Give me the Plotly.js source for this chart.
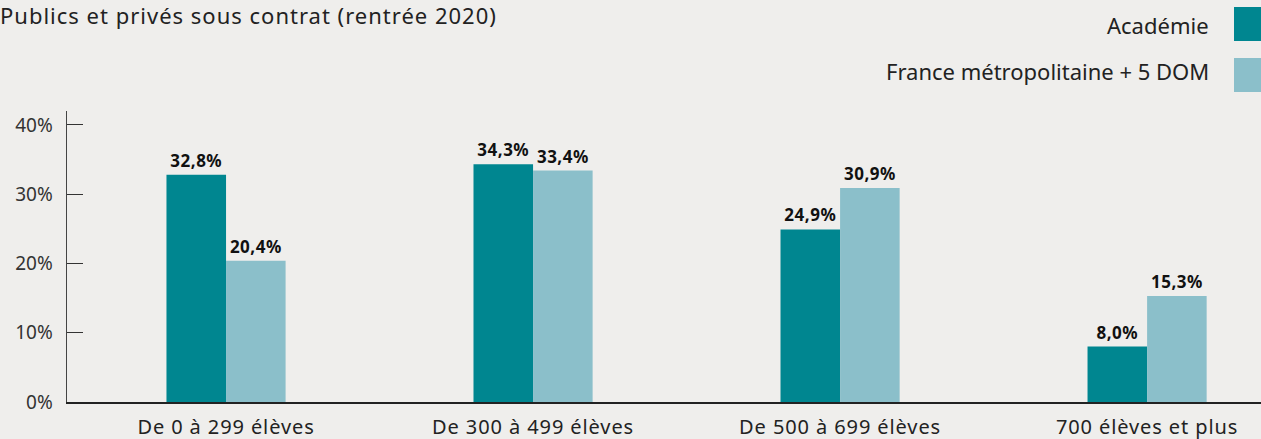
<!DOCTYPE html>
<html>
<head>
<meta charset="utf-8">
<script src="https://cdn.plot.ly/plotly-3.0.1.min.js"></script>
<style>
html,body{margin:0;padding:0;background:#efeeec;}
#chart{width:1261px;height:439px;}
.gtitle{letter-spacing:1px;}
.xtick text{letter-spacing:0.9px;}
.bartext{letter-spacing:0.5px;}
</style>
</head>
<body>
<div id="chart"></div>
<script>
const categories = ["De 0 à 299 élèves", "De 300 à 499 élèves", "De 500 à 699 élèves", "700 élèves et plus"];
const seriesNames = ["Académie", "France métropolitaine + 5 DOM"];
const academie = [32.8, 34.3, 24.9, 8.0];
const france = [20.4, 33.4, 30.9, 15.3];
const colors = ["#008690", "#8bbfca"];
const yTickVals = [0, 10, 20, 30, 40];
const yTickText = ["0%", "10%", "20%", "30%", "40%"];
const subtitle = "Publics et privés sous contrat (rentrée 2020)";

const FONT = "Noto Sans, sans-serif";
const W = 1261, H = 439;
const mL = 67, mR = 0, mT = 111, mB = 37;
const pw = W - mL - mR, ph = H - mT - mB;
const px2x = p => (p - mL) / pw;
const py2y = p => (H - mB - p) / ph;

const allSeries = [academie, france];
const traces = allSeries.map((vals, i) => ({
  type: "bar",
  x: categories,
  y: vals,
  name: seriesNames[i],
  marker: {color: colors[i]},
  text: vals,
  texttemplate: "%{y:.1f}%",
  textposition: "outside",
  textfont: {family: FONT, size: 17, color: "#111", weight: 700},
  cliponaxis: false,
  hoverinfo: "skip"
}));

const annotations = [];
const shapes = [];
const legendTextY = [25, 71];
const legendBoxY = [24, 75];
seriesNames.forEach((n, i) => {
  annotations.push({
    xref: "paper", yref: "paper",
    x: px2x(1211), y: py2y(legendTextY[i]),
    xanchor: "right", yanchor: "middle",
    text: n, showarrow: false,
    font: {family: FONT, size: 22, color: "#222"}
  });
  shapes.push({
    type: "rect", xref: "paper", yref: "paper",
    x0: px2x(1234), x1: px2x(1262),
    y0: py2y(legendBoxY[i] + 17), y1: py2y(legendBoxY[i] - 17),
    fillcolor: colors[i], line: {width: 0}
  });
});

const layout = {
  width: W, height: H,
  margin: {l: mL, r: mR, t: mT, b: mB, pad: 0},
  paper_bgcolor: "#efeeec",
  plot_bgcolor: "#efeeec",
  separators: ", ",
  showlegend: false,
  barmode: "group",
  bargap: 0.612,
  bargroupgap: 0,
  title: {
    text: subtitle,
    xref: "container", yref: "container",
    x: 0, xanchor: "left",
    y: 1 - 16 / H, yanchor: "middle",
    font: {family: FONT, size: 22, color: "#222"},
    pad: {l: 0, t: 0, r: 0, b: 0}
  },
  xaxis: {
    type: "category",
    range: [-0.518, 3.371],
    showline: true, linecolor: "#222", linewidth: 1.5,
    ticks: "", showgrid: false, zeroline: false,
    tickfont: {family: FONT, size: 20, color: "#222"},
    ticklabelstandoff: 6
  },
  yaxis: {
    range: [0, 42],
    tickvals: yTickVals, ticktext: yTickText,
    ticks: "inside", ticklen: 16, tickcolor: "#333", tickwidth: 1.2,
    showline: true, linecolor: "#444", linewidth: 1.5,
    showgrid: false, zeroline: false,
    tickfont: {family: FONT, size: 19, color: "#333"},
    ticklabelstandoff: 9
  },
  annotations: annotations,
  shapes: shapes
};

Plotly.newPlot("chart", traces, layout, {staticPlot: true, displayModeBar: false});
</script>
</body>
</html>
